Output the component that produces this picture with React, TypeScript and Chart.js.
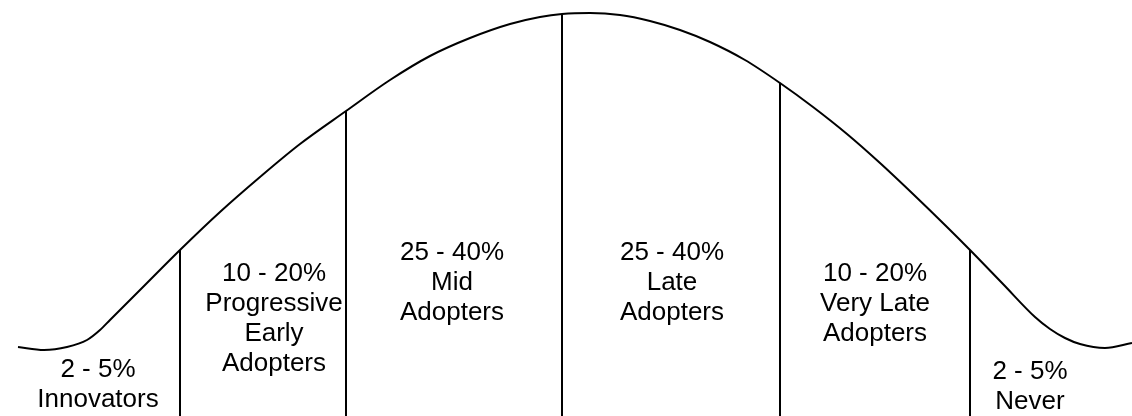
import React, { useEffect, useRef } from "react";
import { Chart, registerables } from "chart.js";

Chart.register(...registerables);

// Bell curve (adoption position vs. share height)
const curveX = [18, 44, 67, 87, 100, 110, 145, 180, 220, 260, 300, 346, 390, 430, 470, 510, 540, 562, 590, 620, 650, 680, 710, 745, 780, 813, 847, 880, 913, 947, 970, 1003, 1035, 1050, 1065, 1080, 1105, 1132];
const curveY = [69, 66, 69, 76, 86, 96, 131, 166, 204, 239, 272, 305, 336, 360, 378, 392, 399, 402, 403, 401, 395, 386, 374, 356, 333, 309, 282, 253, 222, 189, 166, 132, 99, 87, 78, 72, 68, 73];

// Segment dividers: position and the curve height where they stop
const dividerX = [180, 346, 562, 780, 970];
const dividerTop = [166, 305, 402, 333, 166];

// Segment labels
const segmentLines = [
  ["2 - 5%", "Innovators"],
  ["10 - 20%", "Progressive", "Early", "Adopters"],
  ["25 - 40%", "Mid", "Adopters"],
  ["25 - 40%", "Late", "Adopters"],
  ["10 - 20%", "Very Late", "Adopters"],
  ["2 - 5%", "Never"],
];
const segmentCenterX = [98, 274, 452, 672, 875, 1030];
const segmentTopY = [46, 142, 163, 163, 142, 44];

const X_MAX = 1132;
const Y_MAX = 416;

const labelPlugin = {
  id: "segmentLabels",
  afterDatasetsDraw(chart: any) {
    const { ctx, scales } = chart;
    const xs = scales.x;
    const ys = scales.y;
    ctx.save();
    ctx.fillStyle = "#000";
    ctx.font = '26px "Liberation Sans", Arial, sans-serif';
    ctx.textAlign = "center";
    ctx.textBaseline = "middle";
    segmentLines.forEach((lines, i) => {
      const px = xs.getPixelForValue(segmentCenterX[i]);
      const py0 = ys.getPixelForValue(segmentTopY[i]);
      lines.forEach((t, j) => {
        ctx.fillText(t, px, py0 + j * 30);
      });
    });
    ctx.restore();
  },
};

export default function App() {
  const ref = useRef<HTMLCanvasElement | null>(null);

  useEffect(() => {
    if (!ref.current) return;
    const datasets: any[] = [
      {
        data: curveX.map((x, i) => ({ x, y: curveY[i] })),
        borderColor: "#000",
        borderWidth: 2,
        pointRadius: 0,
        cubicInterpolationMode: "monotone",
        fill: false,
      },
    ];
    dividerX.forEach((x, i) => {
      datasets.push({
        data: [
          { x, y: 0 },
          { x, y: dividerTop[i] },
        ],
        borderColor: "#000",
        borderWidth: 2,
        pointRadius: 0,
        tension: 0,
        fill: false,
      });
    });
    const chart = new Chart(ref.current, {
      type: "line",
      data: { datasets },
      options: {
        animation: false,
        responsive: true,
        maintainAspectRatio: false,
        layout: { padding: 0 },
        plugins: { legend: { display: false }, tooltip: { enabled: false } },
        scales: {
          x: { type: "linear", min: 0, max: X_MAX, display: false },
          y: { type: "linear", min: 0, max: Y_MAX, display: false },
        },
      },
      plugins: [labelPlugin],
    });
    return () => chart.destroy();
  }, []);

  return (
    <div style={{ position: "absolute", left: 0, top: 0, width: 1132, height: 416, background: "#fff" }}>
      <canvas ref={ref} />
    </div>
  );
}
